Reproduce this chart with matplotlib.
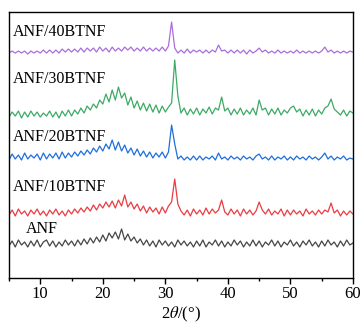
import numpy as np
import matplotlib
matplotlib.use("Agg")
import matplotlib.pyplot as plt
from matplotlib.ticker import MultipleLocator

plt.rcParams["font.family"] = "Liberation Serif"
plt.rcParams["mathtext.fontset"] = "stix"

# 2theta grid, 0.5 deg steps
two_theta = np.arange(5.0, 60.01, 0.5)

# intensities (a.u.), one row per 5 degrees
anf = [2, 7, 1, 8, 3, 6, 1, 7, 2, 8,
       1, 6, 8, 2, 7, 1, 6, 2, 8, 3,
       7, 2, 8, 3, 9, 4, 10, 5, 11, 6,
       13, 7, 15, 10, 16, 9, 19, 8, 14, 7,
       11, 5, 9, 3, 8, 2, 7, 1, 8, 3,
       7, 2, 6, 1, 8, 3, 7, 2, 6, 1,
       7, 2, 8, 1, 6, 3, 8, 2, 7, 1,
       6, 2, 8, 3, 7, 1, 6, 2, 8, 2,
       7, 1, 6, 3, 8, 2, 7, 1, 6, 3,
       8, 2, 6, 1, 7, 3, 8, 2, 6, 1,
       7, 2, 8, 3, 6, 1, 7, 2, 8, 3,
       5]

anf_10 = [1, 6, 0, 7, 2, 5, 0, 6, 2, 7,
          1, 5, 0, 6, 2, 7, 1, 5, 0, 6,
          2, 7, 3, 8, 4, 9, 5, 11, 6, 12,
          8, 14, 9, 15, 8, 16, 10, 21, 9, 14,
          7, 12, 5, 10, 3, 9, 4, 8, 2, 9,
          3, 10, 14, 37, 12, 5, 1, 6, 0, 7,
          2, 6, 1, 8, 2, 7, 3, 6, 16, 4,
          1, 7, 2, 6, 0, 7, 2, 6, 1, 5,
          14, 6, 2, 7, 1, 5, 2, 7, 0, 6,
          1, 6, 2, 5, 0, 7, 2, 5, 1, 6,
          2, 6, 4, 13, 3, 6, 0, 5, 1, 5,
          2]

anf_20 = [0, 6, 1, 5, 0, 7, 1, 5, 2, 6,
          0, 7, 1, 6, 2, 7, 1, 8, 2, 7,
          3, 8, 4, 9, 5, 10, 6, 12, 8, 14,
          9, 16, 11, 20, 10, 18, 9, 15, 7, 12,
          5, 11, 4, 9, 3, 8, 2, 7, 3, 8,
          2, 8, 35, 16, 1, 4, 0, 3, 0, 4,
          0, 4, 0, 3, 1, 4, 0, 7, 1, 3,
          0, 4, 1, 3, 0, 4, 1, 3, 0, 4,
          6, 1, 3, 0, 4, 0, 3, 1, 4, 0,
          3, 0, 4, 1, 3, 0, 4, 1, 3, 0,
          3, 7, 1, 4, 0, 3, 1, 4, 0, 2,
          1]

anf_30 = [1, 6, 2, 7, 0, 6, 1, 7, 2, 6,
          1, 5, 2, 7, 1, 6, 0, 7, 2, 8,
          2, 8, 4, 10, 5, 12, 8, 14, 10, 18,
          14, 24, 16, 28, 18, 31, 20, 25, 13, 21,
          10, 17, 8, 15, 7, 14, 6, 13, 5, 12,
          6, 11, 15, 58, 22, 5, 10, 3, 9, 4,
          10, 3, 9, 5, 11, 4, 10, 8, 21, 7,
          10, 3, 9, 4, 10, 3, 8, 4, 10, 3,
          18, 8, 10, 3, 9, 4, 10, 3, 8, 5,
          10, 12, 6, 9, 2, 8, 3, 9, 2, 8,
          4, 10, 12, 19, 9, 6, 3, 8, 2, 7,
          5]

anf_40 = [1, 3, 1, 3, 1, 3, 0, 3, 1, 3,
          1, 4, 1, 4, 1, 4, 1, 5, 2, 5,
          2, 5, 2, 6, 2, 6, 3, 6, 2, 7,
          3, 6, 2, 7, 3, 6, 3, 7, 4, 7,
          3, 6, 3, 7, 3, 6, 3, 6, 3, 7,
          3, 8, 32, 6, 1, 4, 1, 5, 1, 4,
          2, 4, 1, 4, 1, 4, 2, 9, 3, 4,
          1, 4, 1, 4, 1, 4, 0, 4, 1, 3,
          6, 2, 4, 1, 3, 1, 4, 1, 3, 1,
          3, 1, 4, 1, 3, 1, 3, 1, 3, 1,
          3, 7, 2, 4, 1, 3, 1, 3, 1, 3,
          2]

names = ["ANF", "ANF/10BTNF", "ANF/20BTNF", "ANF/30BTNF", "ANF/40BTNF"]
series = [anf, anf_10, anf_20, anf_30, anf_40]
offsets = [30, 62, 118, 160, 224]
colors = ["#464646", "#eb3c41", "#1e6edc", "#3caa64", "#aa6edc"]
label_pos = [(0.049, 0.183), (0.012, 0.343), (0.012, 0.531),
             (0.012, 0.748), (0.012, 0.926)]

fig = plt.figure(figsize=(3.64, 3.32), dpi=100)
ax = fig.add_axes([0.0247, 0.1627, 0.945, 0.801])

for name, y, off, c, (tx, ty) in zip(names, series, offsets, colors, label_pos):
    ax.plot(two_theta, np.array(y) + off, color=c, lw=0.9)
    ax.text(tx, ty, name, transform=ax.transAxes, fontsize=11.5,
            va="center", ha="left", color="black")

ax.set_xlim(5, 60)
ax.set_ylim(0, 266)
ax.set_yticks([])
ax.xaxis.set_major_locator(MultipleLocator(10))
ax.xaxis.set_minor_locator(MultipleLocator(5))
ax.tick_params(axis="x", which="major", direction="out", length=4, width=1,
               labelsize=12, pad=2)
ax.tick_params(axis="x", which="minor", direction="out", length=2.5, width=1)
for s in ax.spines.values():
    s.set_linewidth(1)
ax.set_xlabel("2$\\theta$/(°)", fontsize=12, labelpad=2)

fig.savefig("out.png", dpi=100)
